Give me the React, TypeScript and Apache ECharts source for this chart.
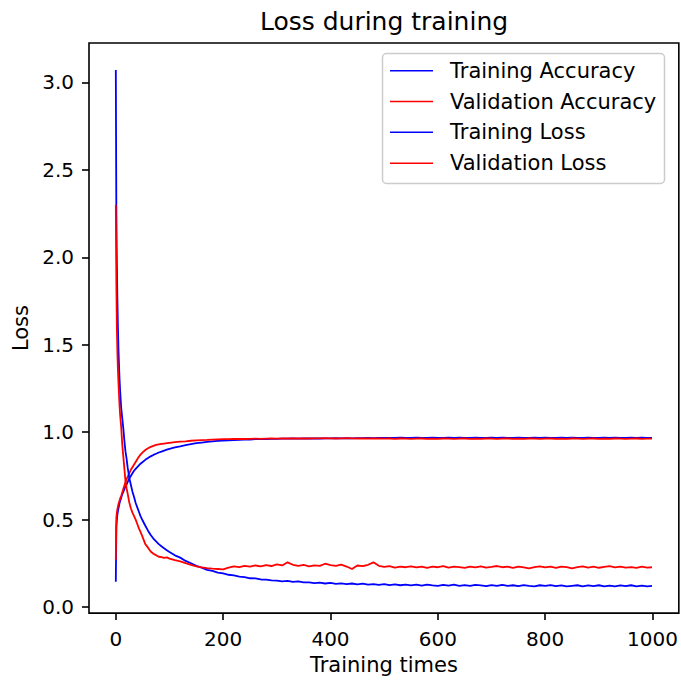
import React, { useEffect, useRef } from "react";
import * as echarts from "echarts";

const EPOCHS = [
  0, 1, 2, 3, 4, 5, 6, 7, 8, 10, 12, 14, 16, 18, 20, 22, 25, 28, 31, 34, 37, 40, 43, 46, 50, 55, 60, 65, 70, 75, 80, 85, 90, 95,
  100, 110, 120, 130, 140, 150, 160, 170, 180, 190,
  200, 210, 220, 230, 240, 250, 260, 270, 280, 290,
  300, 310, 320, 330, 340, 350, 360, 370, 380, 390,
  400, 410, 420, 430, 440, 450, 460, 470, 480, 490,
  500, 510, 520, 530, 540, 550, 560, 570, 580, 590,
  600, 610, 620, 630, 640, 650, 660, 670, 680, 690,
  700, 710, 720, 730, 740, 750, 760, 770, 780, 790,
  800, 810, 820, 830, 840, 850, 860, 870, 880, 890,
  900, 910, 920, 930, 940, 950, 960, 970, 980, 990,
  999,
];

const TRAIN_ACC = [
  0.145, 0.46, 0.5, 0.53, 0.55, 0.565, 0.58, 0.595, 0.605, 0.625, 0.645, 0.66, 0.675, 0.69, 0.7, 0.715, 0.735, 0.75, 0.765, 0.78, 0.79, 0.8, 0.81, 0.82, 0.83, 0.842, 0.852, 0.862, 0.87, 0.877, 0.884, 0.889, 0.895, 0.9,
  0.905, 0.913, 0.919, 0.926, 0.932, 0.937, 0.941, 0.945, 0.947, 0.95,
  0.952, 0.953, 0.955, 0.956, 0.958, 0.958, 0.96, 0.96, 0.961, 0.962,
  0.962, 0.963, 0.963, 0.964, 0.963, 0.964, 0.964, 0.965, 0.964, 0.965,
  0.965, 0.966, 0.965, 0.966, 0.965, 0.966, 0.966, 0.967, 0.966, 0.967,
  0.968, 0.967, 0.968, 0.969, 0.967, 0.968, 0.969, 0.968, 0.967, 0.969,
  0.968, 0.967, 0.969, 0.968, 0.969, 0.967, 0.968, 0.969, 0.968, 0.967,
  0.969, 0.968, 0.969, 0.967, 0.968, 0.969, 0.968, 0.967, 0.969, 0.968,
  0.969, 0.968, 0.967, 0.969, 0.968, 0.969, 0.967, 0.968, 0.969, 0.968,
  0.967, 0.969, 0.968, 0.969, 0.968, 0.967, 0.969, 0.968, 0.969, 0.968,
  0.968,
];

const VAL_ACC = [
  0.27, 0.51, 0.54, 0.56, 0.575, 0.59, 0.6, 0.61, 0.62, 0.635, 0.655, 0.675, 0.695, 0.715, 0.73, 0.745, 0.765, 0.785, 0.8, 0.815, 0.83, 0.845, 0.86, 0.872, 0.885, 0.898, 0.908, 0.916, 0.922, 0.927, 0.93, 0.933, 0.935, 0.937,
  0.939, 0.943, 0.946, 0.948, 0.951, 0.953, 0.955, 0.956, 0.958, 0.959,
  0.96, 0.96, 0.961, 0.962, 0.961, 0.962, 0.963, 0.962, 0.963, 0.964,
  0.963, 0.964, 0.964, 0.965, 0.964, 0.965, 0.964, 0.965, 0.965, 0.966,
  0.965, 0.964, 0.965, 0.966, 0.965, 0.964, 0.965, 0.964, 0.965, 0.964,
  0.963, 0.964, 0.962, 0.964, 0.963, 0.962, 0.963, 0.964, 0.962, 0.963,
  0.962, 0.964, 0.963, 0.962, 0.963, 0.964, 0.962, 0.963, 0.962, 0.964,
  0.963, 0.962, 0.963, 0.964, 0.962, 0.963, 0.962, 0.964, 0.963, 0.962,
  0.963, 0.964, 0.962, 0.963, 0.962, 0.964, 0.963, 0.962, 0.963, 0.964,
  0.962, 0.963, 0.962, 0.964, 0.963, 0.962, 0.963, 0.964, 0.962, 0.963,
  0.963,
];

const TRAIN_LOSS = [
  3.07, 2.25, 1.95, 1.75, 1.59, 1.47, 1.38, 1.3, 1.24, 1.14, 1.08, 1.02, 0.95, 0.89, 0.85, 0.8, 0.74, 0.7, 0.66, 0.63, 0.595, 0.57, 0.545, 0.52, 0.495, 0.465, 0.437, 0.412, 0.392, 0.376, 0.36, 0.348, 0.336, 0.325,
  0.315, 0.296, 0.283, 0.264, 0.251, 0.236, 0.226, 0.213, 0.207, 0.197,
  0.193, 0.185, 0.181, 0.174, 0.172, 0.165, 0.164, 0.158, 0.157, 0.153,
  0.152, 0.147, 0.150, 0.144, 0.147, 0.141, 0.142, 0.137, 0.140, 0.135,
  0.138, 0.133, 0.136, 0.131, 0.135, 0.130, 0.134, 0.129, 0.132, 0.127,
  0.131, 0.126, 0.130, 0.125, 0.129, 0.124, 0.128, 0.123, 0.128, 0.124,
  0.122, 0.127, 0.123, 0.128, 0.122, 0.126, 0.121, 0.127, 0.124, 0.120,
  0.126, 0.122, 0.127, 0.121, 0.125, 0.120, 0.126, 0.122, 0.119, 0.125,
  0.121, 0.126, 0.120, 0.124, 0.118, 0.122, 0.125, 0.119, 0.124, 0.120,
  0.125, 0.119, 0.123, 0.118, 0.124, 0.120, 0.125, 0.119, 0.123, 0.118,
  0.121,
];

const VAL_LOSS = [
  2.3, 1.85, 1.59, 1.45, 1.35, 1.28, 1.21, 1.15, 1.1, 1.03, 0.93, 0.86, 0.79, 0.72, 0.68, 0.65, 0.6, 0.565, 0.54, 0.52, 0.5, 0.475, 0.45, 0.43, 0.4, 0.36, 0.34, 0.318, 0.305, 0.297, 0.288, 0.286, 0.281, 0.284,
  0.277, 0.269, 0.262, 0.251, 0.241, 0.233, 0.227, 0.223, 0.220, 0.218,
  0.216, 0.226, 0.233, 0.229, 0.236, 0.231, 0.238, 0.233, 0.24, 0.235,
  0.244, 0.238, 0.256, 0.242, 0.236, 0.241, 0.233, 0.239, 0.236, 0.248,
  0.24, 0.236, 0.243, 0.232, 0.218, 0.238, 0.234, 0.242, 0.256, 0.236,
  0.23, 0.234, 0.226, 0.232, 0.228, 0.233, 0.227, 0.231, 0.225, 0.232,
  0.228, 0.234, 0.226, 0.231, 0.229, 0.224, 0.232, 0.227, 0.233, 0.226,
  0.23, 0.235, 0.228, 0.231, 0.225, 0.232, 0.227, 0.222, 0.229, 0.233,
  0.227, 0.231, 0.224, 0.232, 0.229, 0.222, 0.228, 0.233, 0.226, 0.231,
  0.225, 0.23, 0.234, 0.227, 0.232, 0.226, 0.229, 0.224, 0.231, 0.226,
  0.228,
];

const SERIES_NAMES = ["Training Accuracy", "Validation Accuracy", "Training Loss", "Validation Loss"];
const SERIES_COLORS = ["#0000ff", "#ff0000", "#0000ff", "#ff0000"];
const X_TICKS = [0, 200, 400, 600, 800, 1000];
const Y_TICKS = [0, 0.5, 1.0, 1.5, 2.0, 2.5, 3.0];
const TITLE = "Loss during training";
const X_NAME = "Training times";
const Y_NAME = "Loss";

export default function App() {
  const ref = useRef<HTMLDivElement>(null);
  useEffect(() => {
    document.body.style.margin = "0";
    const chart = echarts.init(ref.current!, null, { renderer: "svg" });
    const font = "DejaVu Sans";
    const allValues = [TRAIN_ACC, VAL_ACC, TRAIN_LOSS, VAL_LOSS];
    const series = allValues.map((vals, k) => ({
      name: SERIES_NAMES[k],
      type: "line",
      data: EPOCHS.map((e, i) => [e, vals[i]]),
      showSymbol: false,
      symbol: "none",
      silent: true,
      lineStyle: { color: SERIES_COLORS[k], width: 1.8 },
      itemStyle: { color: SERIES_COLORS[k] },
      z: 2 + k,
    }));
    const legendY = [70.7, 101.5, 132.3, 163.3];
    const legendEls: any[] = [
      {
        type: "rect",
        shape: { x: 382.5, y: 53.5, width: 282, height: 130, r: 4 },
        style: { fill: "rgba(255,255,255,0.8)", stroke: "#cccccc", lineWidth: 1.5 },
        z: 100,
      },
    ];
    SERIES_NAMES.forEach((n, k) => {
      legendEls.push({
        type: "line",
        shape: { x1: 390, y1: legendY[k], x2: 433, y2: legendY[k] },
        style: { stroke: SERIES_COLORS[k], lineWidth: 1.6 },
        z: 101,
      });
      legendEls.push({
        type: "text",
        x: 450,
        y: legendY[k],
        style: { text: n, fontSize: 21, fontFamily: font, fill: "#000", verticalAlign: "middle", align: "left" },
        z: 101,
      });
    });
    chart.setOption({
      animation: false,
      backgroundColor: "#ffffff",
      textStyle: { fontFamily: font },
      grid: {
        left: 89,
        top: 43,
        width: 590,
        height: 572,
        show: true,
        borderColor: "#000",
        borderWidth: 1.6,
        backgroundColor: "transparent",
        containLabel: false,
      },
      xAxis: {
        type: "value",
        min: -49.95,
        max: 1048.95,
        name: X_NAME,
        nameLocation: "middle",
        nameGap: 40,
        nameTextStyle: { fontSize: 21, color: "#000", fontFamily: font },
        axisLine: { show: false, onZero: false },
        splitLine: { show: false },
        axisTick: {
          show: true,
          length: 7,
          inside: false,
          customValues: X_TICKS,
          lineStyle: { color: "#000", width: 1.6 },
        },
        axisLabel: {
          customValues: X_TICKS,
          fontSize: 20,
          color: "#000",
          fontFamily: font,
          margin: 16,
          formatter: (v: number) => String(Math.round(v)),
        },
      },
      yAxis: {
        type: "value",
        min: -0.0342,
        max: 3.225,
        name: Y_NAME,
        nameLocation: "middle",
        nameGap: 57,
        nameTextStyle: { fontSize: 21, color: "#000", fontFamily: font },
        axisLine: { show: false, onZero: false },
        splitLine: { show: false },
        axisTick: {
          show: true,
          length: 7,
          inside: false,
          customValues: Y_TICKS,
          lineStyle: { color: "#000", width: 1.6 },
        },
        axisLabel: {
          customValues: Y_TICKS,
          fontSize: 20,
          color: "#000",
          fontFamily: font,
          margin: 15,
          formatter: (v: number) => v.toFixed(1),
        },
      },
      series,
      graphic: [
        {
          type: "text",
          x: 384,
          y: 21,
          style: { text: TITLE, fontSize: 25, fontFamily: font, fill: "#000", align: "center", verticalAlign: "middle" },
          z: 100,
        },
        ...legendEls,
      ],
    });
    return () => chart.dispose();
  }, []);
  return <div ref={ref} style={{ width: 681, height: 680 }} />;
}
